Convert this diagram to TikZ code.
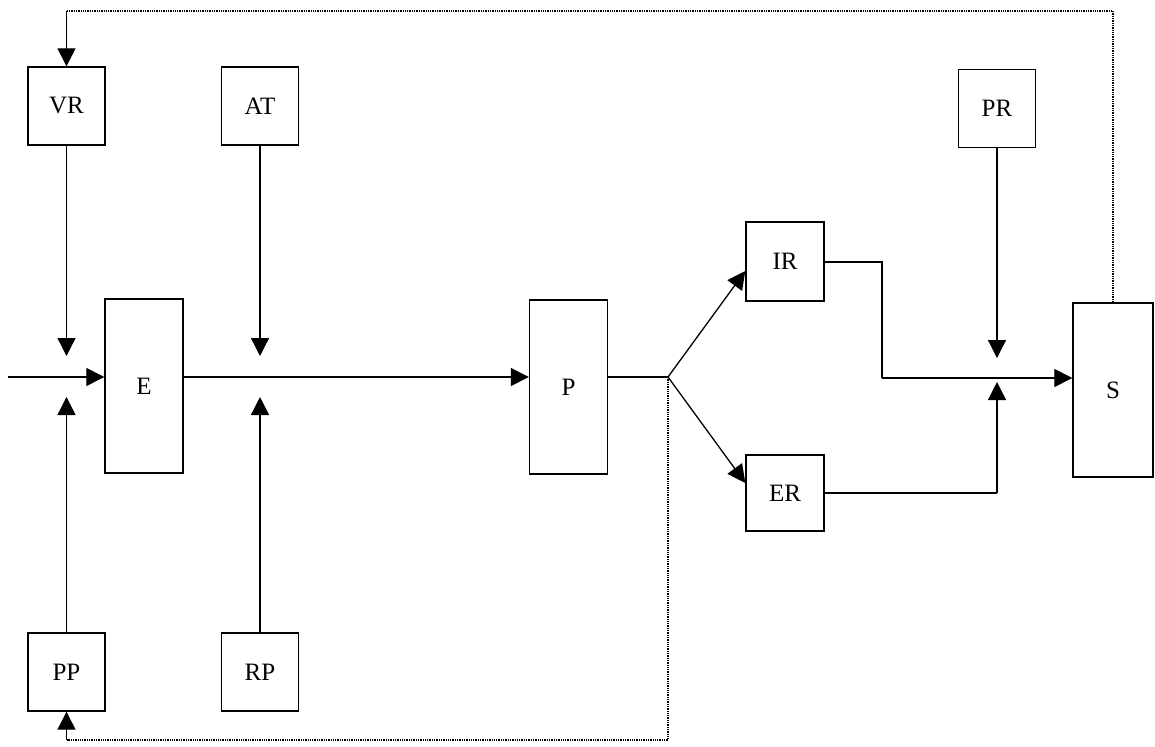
\documentclass[tikz,border=0pt]{standalone}
\usepackage{fontspec}
\setmainfont{Liberation Serif}
\usetikzlibrary{arrows.meta}
\begin{document}
\begin{tikzpicture}[x=1pt,y=-1pt,
  blk/.style={draw,line width=1.4pt,inner sep=0pt,font=\fontsize{25}{28}\selectfont},
  sq/.style={blk,minimum width=77pt,minimum height=78pt},
  tall/.style={blk,minimum width=78pt,minimum height=174pt},
  conn/.style={line width=1.3pt},
  arr/.style={conn,-{Triangle[length=18pt,width=18pt]}},
  fb/.style={line width=1.3pt,densely dotted}]
\useasboundingbox (0,0) rectangle (1155,746);
% blocks
\node[sq] (VR) at (66.5,106) {VR};
\node[sq] (AT) at (260,106) {AT};
\node[sq] (PP) at (66.5,672) {PP};
\node[sq] (RP) at (260,672) {RP};
\node[tall] (E) at (144,386) {E};
\node[tall] (P) at (568.5,387) {P};
\node[blk,minimum width=78pt,minimum height=79pt] (IR) at (785,261.5) {IR};
\node[blk,minimum width=78pt,minimum height=76pt] (ER) at (785,493) {ER};
\node[sq] (PR) at (997,108.5) {PR};
\node[blk,minimum width=80pt,minimum height=174pt] (S) at (1113,390) {S};
% helper coordinates
\coordinate (in) at (8,377);
\coordinate (J) at (668,377);
\coordinate (VRt) at (66.5,356);
\coordinate (PPt) at (66.5,397);
\coordinate (ATt) at (260,356);
\coordinate (RPt) at (260,397);
\coordinate (PRt) at (997,358);
\coordinate (ERt) at (997,382);
\coordinate (IRc) at (882,262);
\coordinate (IRd) at (882,378);
\coordinate (ERc) at (997,493);
\coordinate (T1) at (1113,11);
\coordinate (T2) at (66.5,11);
\coordinate (B1) at (668,740);
\coordinate (B2) at (66.5,740);
% connectors
\draw[arr] (in) -- (E.west |- in);
\draw[arr] (VR.south) -- (VRt);
\draw[arr] (PP.north) -- (PPt);
\draw[arr] (AT.south) -- (ATt);
\draw[arr] (RP.north) -- (RPt);
\draw[arr] (E.east |- in) -- (P.west |- in);
\draw[conn] (P.east |- J) -- (J);
\draw[arr] (J) -- (IR.west |- 0,271);
\draw[arr] (J) -- (ER.west |- 0,483);
\draw[conn] (IR.east |- IRc) -- (IRc) -- (IRd);
\draw[arr] (IRd) -- (S.west |- IRd);
\draw[arr] (PR.south) -- (PRt);
\draw[conn] (ER.east |- ERc) -- (ERc);
\draw[arr] (ERc) -- (ERt);
% feedback loops
\draw[fb] (S.north) -- (T1) -- (T2);
\draw[arr] (T2) -- (VR.north);
\draw[fb] (J) -- (B1) -- (B2);
\draw[arr] (B2) -- (PP.south);
\end{tikzpicture}
\end{document}
